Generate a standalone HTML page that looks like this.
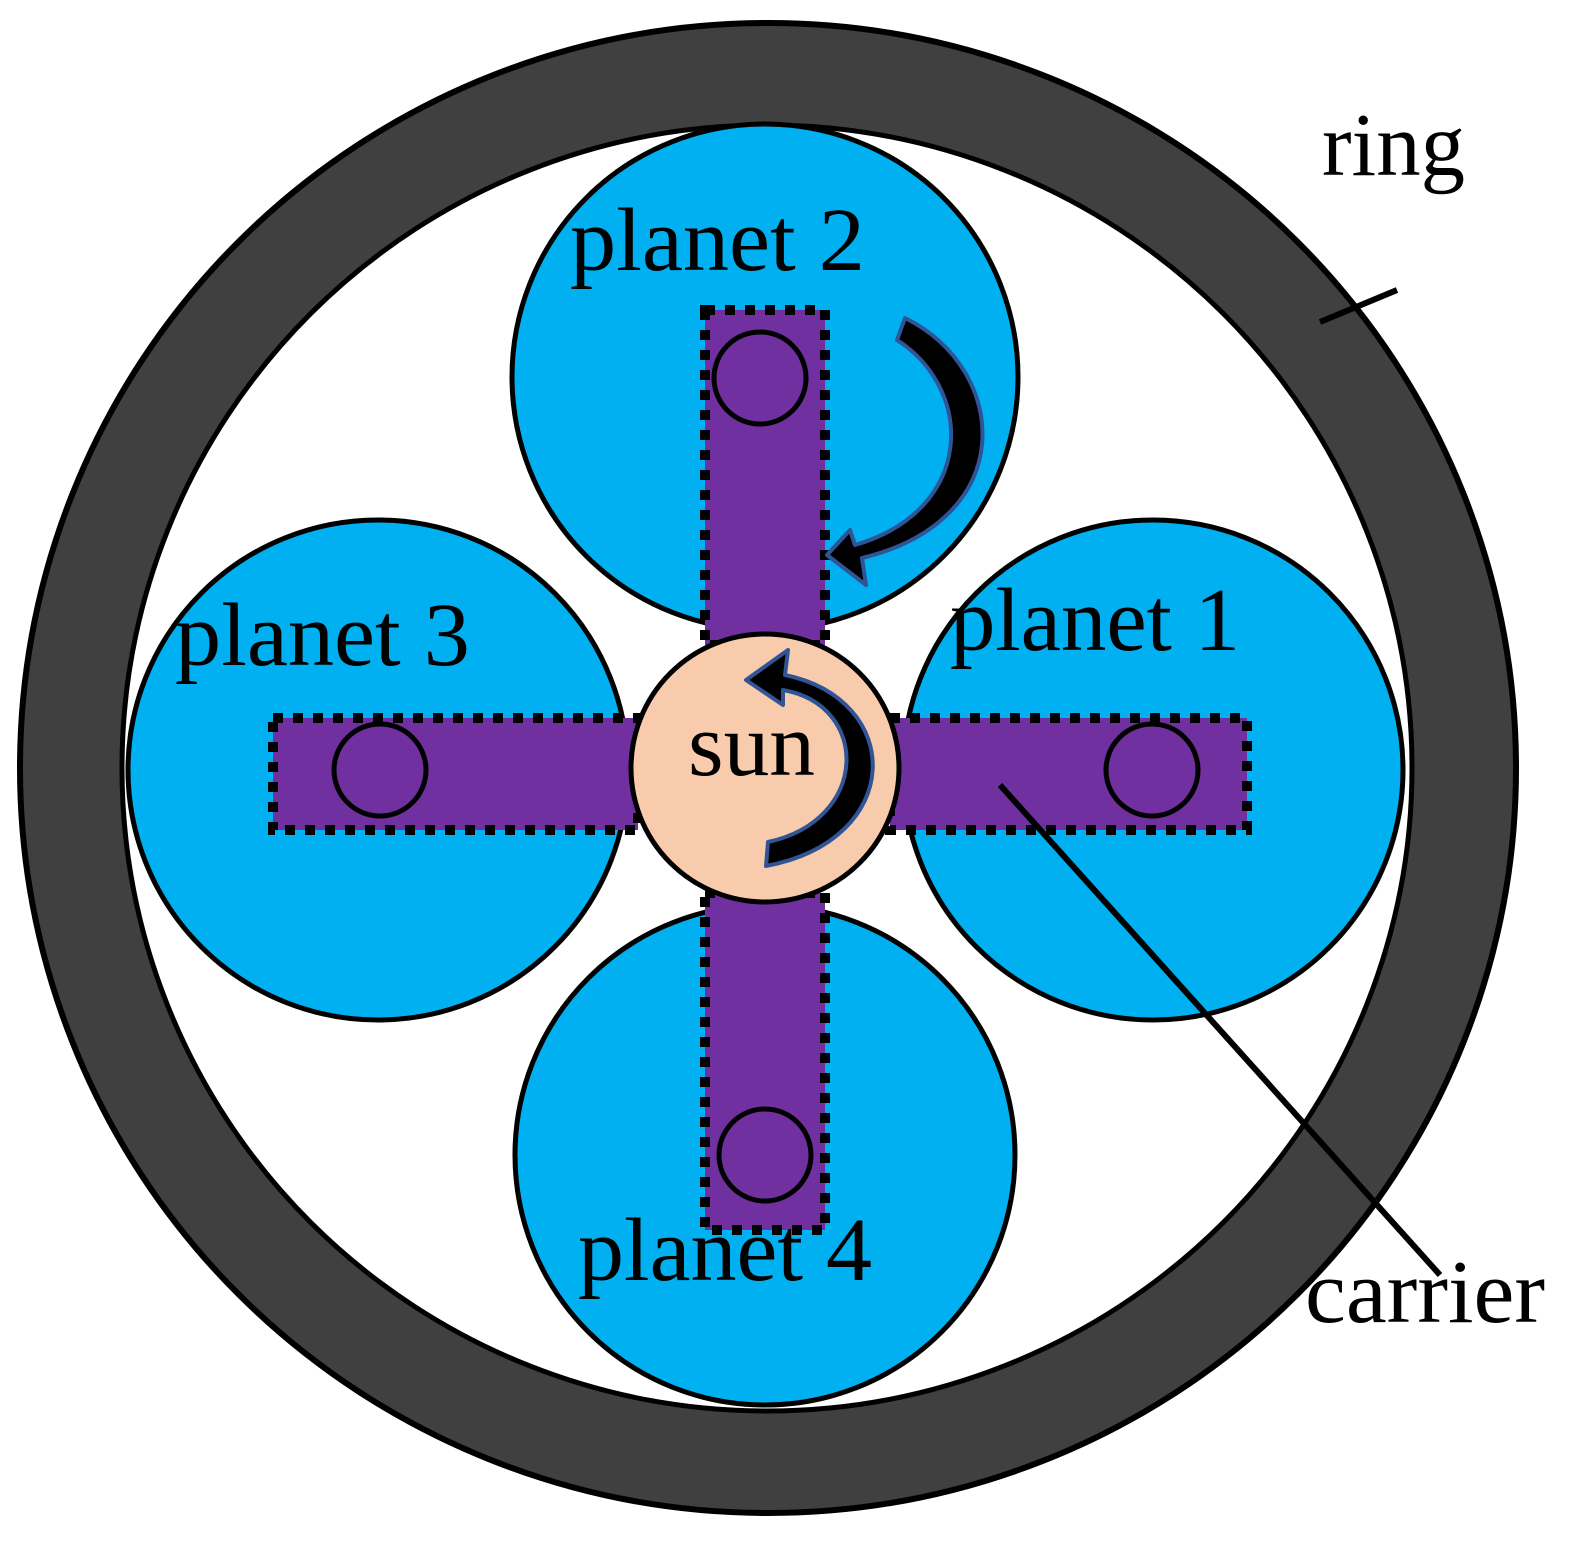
<!DOCTYPE html>
<html><head><meta charset="utf-8"><style>html,body{margin:0;padding:0;background:#fff}svg{display:block}</style></head>
<body>
<svg width="1574" height="1551" viewBox="0 0 1574 1551" xmlns="http://www.w3.org/2000/svg">
<ellipse cx="768" cy="768" rx="748" ry="745" fill="#404040" stroke="#000" stroke-width="6"/>
<ellipse cx="767" cy="768" rx="645" ry="643" fill="#fff" stroke="#000" stroke-width="5"/>
<g fill="#00b0f0" stroke="#000" stroke-width="5">
<circle cx="765" cy="377" r="253"/>
<circle cx="1153" cy="770" r="250"/>
<circle cx="378" cy="770" r="250"/>
<circle cx="765" cy="1155" r="250"/>
</g>
<g fill="#7030a0" stroke="#000" stroke-width="10" stroke-dasharray="10 10">
<rect x="705" y="310" width="120" height="335"/>
<rect x="890" y="718" width="357" height="112"/>
<rect x="273" y="718" width="365" height="112"/>
<rect x="705" y="893" width="120" height="337"/>
</g>
<circle cx="765" cy="768" r="134" fill="#f8cbad" stroke="#000" stroke-width="5"/>
<g fill="#7030a0" stroke="#000" stroke-width="5">
<circle cx="760" cy="378" r="46"/>
<circle cx="1152" cy="770" r="46"/>
<circle cx="380" cy="770" r="46"/>
<circle cx="765" cy="1155" r="46"/>
</g>
<g fill="#000" stroke="#2f5597" stroke-width="4" stroke-linejoin="round">
<path d="M897 340 L905 318 C1010 370 1020 520 862 558 L866 585 L827 555 L850 530 L855 545 C975 510 975 390 897 340 Z"/>
<path d="M768 842 L766 866 C905 840 905 700 785 675 L788 650 L746 680 L783 705 L783 690 C870 705 870 820 768 842 Z"/>
</g>
<g stroke="#000" stroke-width="6">
<line x1="1000" y1="785" x2="1440" y2="1275"/>
<line x1="1320" y1="322" x2="1397" y2="290"/>
</g>
<g font-family="Liberation Serif, serif" font-size="90" fill="#000" lengthAdjust="spacingAndGlyphs">
<text x="1322" y="175" textLength="143" lengthAdjust="spacingAndGlyphs">ring</text>
<text x="570" y="270" textLength="295" lengthAdjust="spacingAndGlyphs">planet 2</text>
<text x="950" y="650" textLength="290" lengthAdjust="spacingAndGlyphs">planet 1</text>
<text x="175" y="665" textLength="295" lengthAdjust="spacingAndGlyphs">planet 3</text>
<text x="688" y="775" textLength="127" lengthAdjust="spacingAndGlyphs">sun</text>
<text x="578" y="1280" textLength="294" lengthAdjust="spacingAndGlyphs">planet 4</text>
<text x="1305" y="1322" textLength="240" lengthAdjust="spacingAndGlyphs">carrier</text>
</g>
</svg>
</body></html>
